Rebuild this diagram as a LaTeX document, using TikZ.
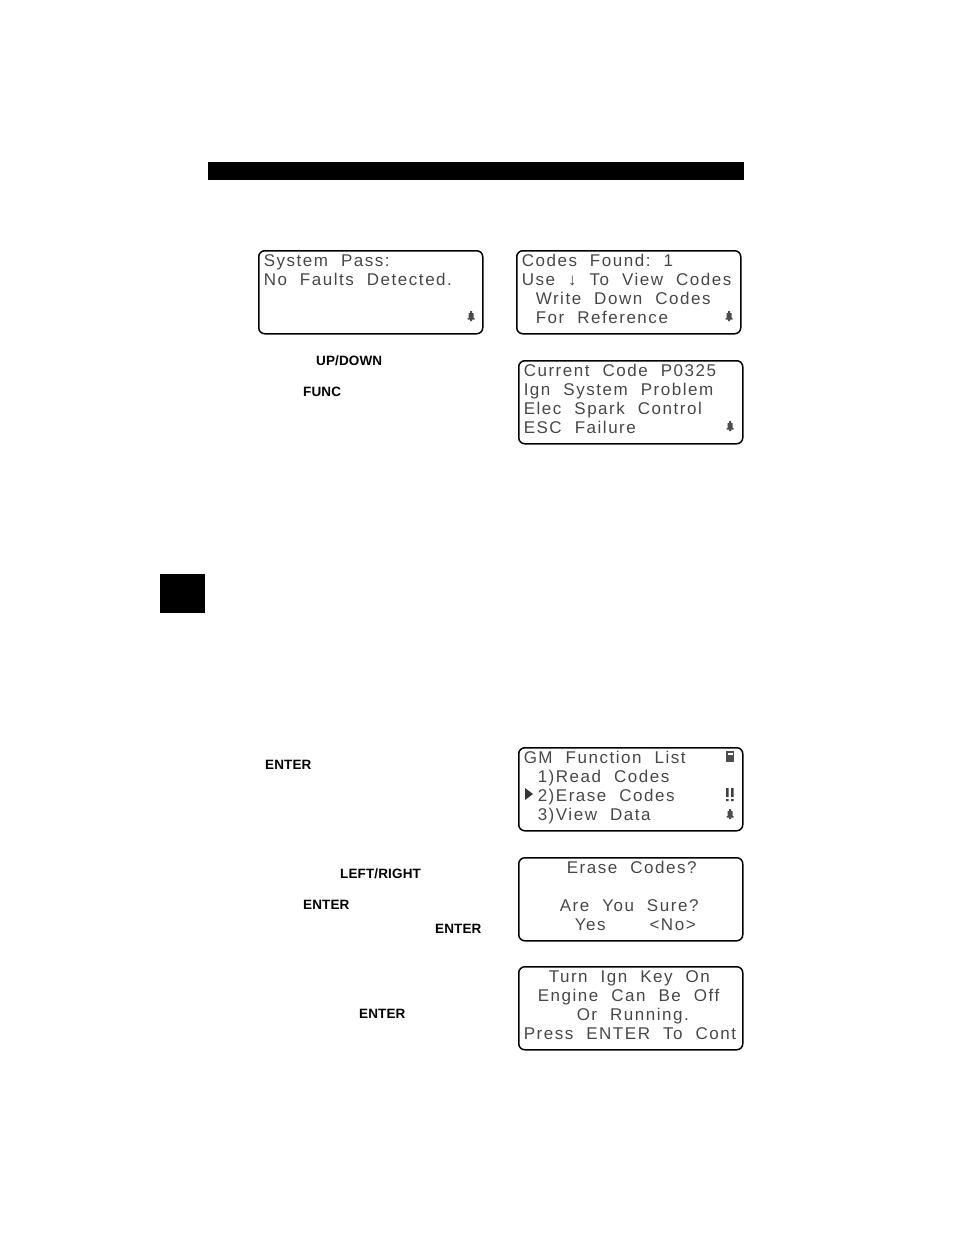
\documentclass[tikz,border=0pt]{standalone}
\usepackage{fontspec}
\setmainfont{Liberation Sans}
\newfontfamily\lcdfont[LetterSpace=9]{Liberation Sans}
\newfontfamily\keyfont[LetterSpace=1]{Liberation Sans}
\usetikzlibrary{positioning,shapes}
\newcommand{\bellmark}[1]{%
  \fill[black!70,shift={(#1)}] (-1,-5) rectangle (1,-3) (-2.5,-3) rectangle (2.5,2) (-3.5,2) rectangle (3.5,3.5) (-1,3.5) rectangle (1,5);
}
\begin{document}
\begin{tikzpicture}[%
        x=1pt,
        y=-1pt,
        lcd/.style={%
          rectangle,
          rounded corners=6pt,
          draw,
          line width=1.5pt,
          anchor=north west,
          minimum width=224pt,
          minimum height=83pt,
          text width=214pt,
          inner xsep=5pt,
          inner ysep=0pt,
          align=left,
          font=\fontsize{17pt}{19pt}\selectfont\lcdfont,
          text=black!72,
          execute at begin node={\frenchspacing\spaceskip=13pt\relax}
        },
        keyname/.style={%
          anchor=west,
          inner sep=0pt,
          font=\fontsize{13.5pt}{14pt}\selectfont\keyfont\bfseries
        },
        solidblock/.style={%
          rectangle,
          fill=black,
          anchor=north west,
          inner sep=0pt
        }
      ]
      \useasboundingbox (0,0) rectangle (954,1235);

      \node[solidblock,minimum width=536pt,minimum height=18pt] (bar) at (208,162) {};
      \node[solidblock,minimum width=45pt,minimum height=39pt] (tab) at (160,574) {};

      \node[lcd] (pass) at (258,250) {System Pass:\\No Faults Detected.\\~\\~\\[-12pt]\mbox{}};
      \node[lcd] (found) at (516,250) {Codes Found: 1\\Use ↓ To View Codes\\\hspace*{14pt}Write Down Codes\\\hspace*{14pt}For Reference\\[-12pt]\mbox{}};
      \node[lcd] (current) at (518,360) {Current Code P0325\\Ign System Problem\\Elec Spark Control\\ESC Failure\\[-12pt]\mbox{}};
      \node[lcd] (menu) at (518,747) {GM Function List\\\hspace*{14pt}1)Read Codes\\\hspace*{14pt}2)Erase Codes\\\hspace*{14pt}3)View Data\\[-12pt]\mbox{}};
      \node[lcd] (erase) at (518,857) {\hspace*{43pt}Erase Codes?\\~\\\hspace*{36pt}Are You Sure?\\\hspace*{51pt}Yes\hspace*{44pt}<No>\\[-12pt]\mbox{}};
      \node[lcd] (turn) at (518,966) {\hspace*{25pt}Turn Ign Key On\\\hspace*{14pt}Engine Can Be Off\\\hspace*{53pt}Or Running.\\Press ENTER To Cont\\[-12pt]\mbox{}};

      \node[keyname] (updown) at (316,361) {UP/DOWN};
      \node[keyname] (func) at (303,392) {FUNC};
      \node[keyname] (enterA) at (265,765) {ENTER};
      \node[keyname] (leftright) at (340,874) {LEFT/RIGHT};
      \node[keyname] (enterB) at (303,905) {ENTER};
      \node[keyname] (enterC) at (435,929) {ENTER};
      \node[keyname] (enterD) at (359,1014) {ENTER};

      \bellmark{471,316}
      \bellmark{729,316}
      \bellmark{730,426}
      \bellmark{730,814}
      \fill[black!80] (525,788) -- (533,794) -- (525,800) -- cycle;
      \fill[black!75] (726,788) rectangle (728.5,797) (731,788) rectangle (733.5,797) (726,799) rectangle (728.5,801) (731,799) rectangle (733.5,801);
      \fill[black!70] (726,751) rectangle (734,762);
      \fill[white] (727.5,753) rectangle (732.5,755);
\end{tikzpicture}
\end{document}
